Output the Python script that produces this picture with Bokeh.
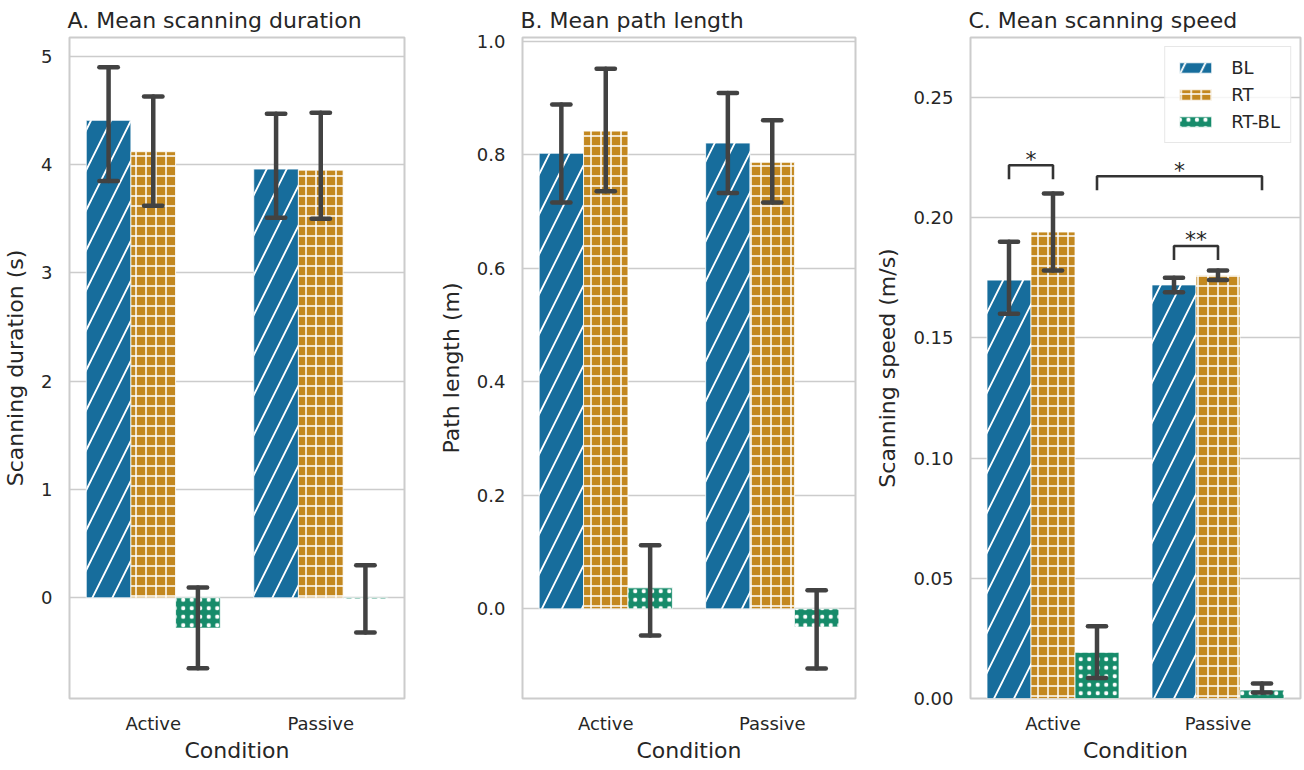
from bokeh.plotting import figure
from bokeh.models import FactorRange, Range1d, FixedTicker, PrintfTickFormatter, ColumnDataSource
from bokeh.transform import dodge
from bokeh.layouts import row
from bokeh.embed import file_html
from bokeh.resources import INLINE
from bokeh.core.properties import value

conditions = ["Active", "Passive"]
series = ["BL", "RT", "RT-BL"]

# A. Mean scanning duration (s)
dur_BL = [4.41, 3.96]
dur_BL_lo = [3.85, 3.51]
dur_BL_hi = [4.90, 4.47]
dur_RT = [4.12, 3.95]
dur_RT_lo = [3.62, 3.50]
dur_RT_hi = [4.63, 4.48]
dur_D = [-0.28, -0.01]
dur_D_lo = [-0.65, -0.32]
dur_D_hi = [0.095, 0.30]

# B. Mean path length (m)
len_BL = [0.803, 0.821]
len_BL_lo = [0.716, 0.733]
len_BL_hi = [0.889, 0.909]
len_RT = [0.842, 0.787]
len_RT_lo = [0.736, 0.716]
len_RT_hi = [0.952, 0.861]
len_D = [0.037, -0.032]
len_D_lo = [-0.047, -0.105]
len_D_hi = [0.112, 0.033]

# C. Mean scanning speed (m/s)
spd_BL = [0.174, 0.172]
spd_BL_lo = [0.160, 0.169]
spd_BL_hi = [0.190, 0.175]
spd_RT = [0.194, 0.176]
spd_RT_lo = [0.178, 0.174]
spd_RT_hi = [0.210, 0.178]
spd_D = [0.0192, 0.0035]
spd_D_lo = [0.0085, 0.0025]
spd_D_hi = [0.0300, 0.0062]

ticks_A = [0, 1, 2, 3, 4, 5]
ticks_B = [0.0, 0.2, 0.4, 0.6, 0.8, 1.0]
ticks_C = [0.00, 0.05, 0.10, 0.15, 0.20, 0.25]

# significance brackets in panel C: (cond1, series1, cond2, series2, level, label)
brackets = [
    ("Active", "BL", "Active", "RT", 0.2218, "*"),
    ("Active", "RT-BL", "Passive", "RT-BL", 0.2172, "*"),
    ("Passive", "BL", "Passive", "RT", 0.1882, "**"),
]

COLORS = {"BL": "#176d9c", "RT": "#c38820", "RT-BL": "#168b6a"}
HATCH = {"BL": "/", "RT": "+", "RT-BL": "."}
HSCALE = {"BL": 40, "RT": 10, "RT-BL": 8.5}
HWEIGHT = {"BL": 1.8, "RT": 1.5, "RT-BL": 1.0}
BW = 0.8 / 3
OFFS = {"BL": -BW, "RT": 0.0, "RT-BL": BW}
TXT = "#262626"
FONT = "DejaVu Sans"
ERR = "#424242"
FH = 661


def panel(title, ylabel, data, yr, ticks, fmt, fw, bl, br, legend=False):
    p = figure(x_range=FactorRange(*conditions), y_range=Range1d(*yr),
               frame_width=fw, frame_height=FH, output_backend="svg", toolbar_location=None,
               min_border_left=bl, min_border_right=br, min_border_top=33,
               min_border_bottom=10, title=title)
    p.title.text_font = FONT
    p.title.text_font_size = "22px"
    p.title.text_font_style = "normal"
    p.title.text_color = TXT
    p.title.align = "left"
    p.title.offset = -2

    for s in series:
        m, lo, hi = data[s]
        src = ColumnDataSource(dict(cond=conditions, top=m, lo=lo, hi=hi))
        kw = dict(fill_color=COLORS[s], line_color="white", line_width=0.8,
                  hatch_pattern=HATCH[s], hatch_color="white",
                  hatch_scale=HSCALE[s], hatch_weight=HWEIGHT[s])
        if legend:
            kw["legend_label"] = s
        p.vbar(x=dodge("cond", OFFS[s], range=p.x_range), top="top", bottom=0,
               width=BW, source=src, **kw)
    for s in series:
        m, lo, hi = data[s]
        src = ColumnDataSource(dict(cond=conditions, top=m, lo=lo, hi=hi))
        o = OFFS[s]
        ek = dict(line_color=ERR, line_width=4.5, line_cap="round", source=src)
        p.segment(x0=dodge("cond", o, range=p.x_range), y0="lo",
                  x1=dodge("cond", o, range=p.x_range), y1="hi", **ek)
        for f in ("lo", "hi"):
            p.segment(x0=dodge("cond", o - 0.055, range=p.x_range), y0=f,
                      x1=dodge("cond", o + 0.055, range=p.x_range), y1=f, **ek)

    p.outline_line_color = "#cccccc"
    p.outline_line_width = 2
    p.xgrid.grid_line_color = None
    p.ygrid.grid_line_color = "#cccccc"
    p.ygrid.grid_line_width = 1.5
    p.yaxis.ticker = FixedTicker(ticks=ticks)
    p.yaxis.formatter = PrintfTickFormatter(format=fmt)
    for ax in (p.xaxis[0], p.yaxis[0]):
        ax.axis_line_color = None
        ax.major_tick_line_color = None
        ax.minor_tick_line_color = None
        ax.major_tick_in = 0
        ax.major_tick_out = 0
        ax.minor_tick_out = 0
        ax.major_label_text_font = FONT
        ax.major_label_text_font_size = "18px"
        ax.major_label_text_color = TXT
        ax.major_label_text_line_height = 1.0
        ax.axis_label_text_font = FONT
        ax.axis_label_text_font_size = "22px"
        ax.axis_label_text_font_style = "normal"
        ax.axis_label_text_color = TXT
        ax.axis_label_text_line_height = 1.0
    p.xaxis.axis_label = "Condition"
    p.yaxis.axis_label = ylabel
    p.yaxis.major_label_standoff = 17
    p.yaxis.axis_label_standoff = 10
    p.xaxis.major_label_standoff = 14
    p.xaxis.axis_label_standoff = 1
    return p


pA = panel("A. Mean scanning duration", "Scanning duration (s)",
           {"BL": (dur_BL, dur_BL_lo, dur_BL_hi), "RT": (dur_RT, dur_RT_lo, dur_RT_hi),
            "RT-BL": (dur_D, dur_D_lo, dur_D_hi)},
           (-0.93, 5.175), ticks_A, "%d", 335, 62, 31)
pB = panel("B. Mean path length", "Path length (m)",
           {"BL": (len_BL, len_BL_lo, len_BL_hi), "RT": (len_RT, len_RT_lo, len_RT_hi),
            "RT-BL": (len_D, len_D_lo, len_D_hi)},
           (-0.158, 1.007), ticks_B, "%.1f", 333, 84, 17)
pC = panel("C. Mean scanning speed", "Scanning speed (m/s)",
           {"BL": (spd_BL, spd_BL_lo, spd_BL_hi), "RT": (spd_RT, spd_RT_lo, spd_RT_hi),
            "RT-BL": (spd_D, spd_D_lo, spd_D_hi)},
           (0.0, 0.2749), ticks_C, "%.2f", 330, 92, 2, legend=True)

# brackets
leg = 0.0058
for c1, s1, c2, s2, lvl, lab in brackets:
    x1 = conditions.index(c1) + 0.5 + OFFS[s1]
    x2 = conditions.index(c2) + 0.5 + OFFS[s2]
    pC.line(x=[x1, x1, x2, x2], y=[lvl - leg, lvl, lvl, lvl - leg],
            line_color="#333333", line_width=2.6)
    pC.text(x=[(x1 + x2) / 2], y=[lvl], text=[lab], text_align="center",
            text_baseline="alphabetic", y_offset=-6, text_font=value(FONT),
            text_font_size="22px", text_color=TXT)

lg = pC.legend[0]
lg.location = "top_right"
lg.label_text_font = FONT
lg.label_text_font_size = "18px"
lg.label_text_color = TXT
lg.glyph_width = 40
lg.glyph_height = 13
lg.label_standoff = 16
lg.label_height = 20
lg.spacing = 6
lg.padding = 10
lg.margin = 9
lg.border_line_color = "#d0d0d0"
lg.border_line_width = 1.5
lg.background_fill_alpha = 0.8

layout = row(pA, pB, pC, spacing=0)
open("out.html", "w").write(file_html(layout, INLINE))
